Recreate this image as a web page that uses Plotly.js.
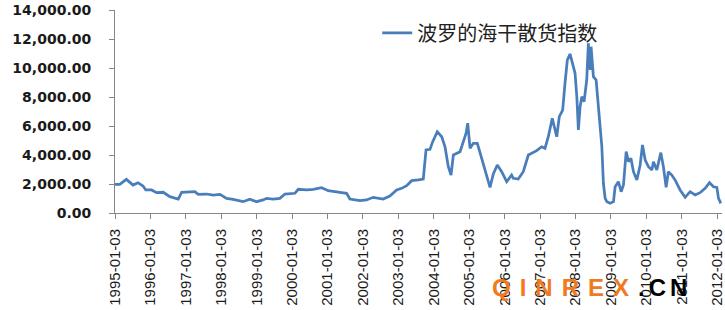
<!DOCTYPE html>
<html>
<head>
<meta charset="utf-8">
<script src="https://cdn.plot.ly/plotly-3.0.1.min.js"></script>
<style>html,body{margin:0;padding:0;background:#fff;}#chart{width:725px;height:310px;}</style>
</head>
<body>
<div id="chart"></div>
<script>
// Baltic Dry Index readings (date, value)
const dates = [
'1995-01-03','1995-02-21','1995-04-30','1995-07-08','1995-08-28','1995-10-19','1995-11-16',
'1996-01-15','1996-03-07','1996-05-14','1996-07-22','1996-10-16','1996-11-20',
'1997-01-27','1997-04-06','1997-05-10','1997-08-05','1997-10-12','1997-12-20',
'1998-02-27','1998-05-05','1998-08-16','1998-10-24',
'1999-01-02','1999-02-05','1999-03-10','1999-04-15','1999-06-22','1999-08-30','1999-10-21',
'2000-02-01','2000-03-07','2000-06-01','2000-08-08','2000-11-02',
'2001-01-10','2001-05-10','2001-07-18','2001-08-21','2001-12-02',
'2002-02-09','2002-04-18','2002-07-30','2002-10-07','2002-12-16',
'2003-02-06','2003-03-29','2003-05-20','2003-07-27','2003-09-17','2003-10-15','2003-11-25','2003-12-23',
'2004-02-08','2004-03-25','2004-04-28','2004-06-01','2004-06-29','2004-07-23','2004-09-30','2004-11-03','2004-12-01','2004-12-18',
'2005-01-11','2005-02-14','2005-03-27','2005-05-11','2005-07-02','2005-08-05','2005-09-08','2005-10-19','2005-12-03',
'2006-01-24','2006-03-16','2006-04-02','2006-05-23','2006-07-14','2006-09-04','2006-10-09','2006-11-29',
'2007-01-20','2007-02-23','2007-03-29','2007-05-09','2007-05-30','2007-06-24','2007-07-20','2007-08-24','2007-09-17','2007-10-11','2007-11-08','2007-12-06','2007-12-30',
'2008-01-17','2008-02-02','2008-02-20','2008-03-08','2008-04-01','2008-04-28','2008-05-15','2008-06-02','2008-06-12','2008-07-06','2008-08-03','2008-08-27','2008-09-13','2008-10-01','2008-10-17','2008-11-04','2008-11-22','2008-12-26',
'2009-01-29','2009-02-15','2009-03-21','2009-04-18','2009-05-12','2009-06-09','2009-07-03','2009-07-28','2009-08-23','2009-09-27','2009-10-31','2009-11-24','2009-12-22',
'2010-01-25','2010-03-01','2010-03-17','2010-04-21','2010-06-01','2010-06-28','2010-07-26','2010-08-18','2010-09-22','2010-10-26','2010-12-17',
'2011-02-07','2011-03-30','2011-05-21','2011-07-11','2011-09-01','2011-10-16','2011-11-26','2011-12-31',
'2012-01-17','2012-02-10'
];
const bdi = [
1980,1980,2320,1930,2090,1860,1590,
1590,1400,1430,1125,965,1430,
1430,1470,1290,1310,1240,1290,
1010,945,780,945,
780,830,900,1010,965,1010,1310,
1360,1635,1590,1635,1745,
1540,1430,1360,965,850,
900,1080,965,1170,1590,
1700,1880,2230,2280,2345,4345,4390,4920,
5610,5260,4570,3190,2620,4000,4230,4920,5500,6190,
4460,4810,4810,3770,2500,1770,2690,3310,2850,
2160,2620,2390,2345,2850,4000,4120,4300,
4570,4460,5260,6530,5950,5260,6640,7100,8945,10550,10970,10320,9635,
8020,5725,7330,8020,7680,9170,11700,9860,11470,9400,9170,7100,5950,4570,2050,1010,780,670,
780,1810,2160,1470,1930,4230,3540,3770,2850,2280,3310,4690,3655,
3190,2965,3540,2965,4160,3190,1770,2850,2620,2280,1590,
1080,1470,1240,1400,1700,2090,1810,1770,
1010,670
];
const seriesName = '波罗的海干散货指数';
const xTickVals = ['1995-01-03','1996-01-03','1997-01-03','1998-01-03','1999-01-03','2000-01-03','2001-01-03','2002-01-03','2003-01-03','2004-01-03','2005-01-03','2006-01-03','2007-01-03','2008-01-03','2009-01-03','2010-01-03','2011-01-03','2012-01-03'];
const xTickText = xTickVals.slice();
const yTicks = [0,2000,4000,6000,8000,10000,12000,14000];

const trace = {
  x: dates, y: bdi, type: 'scatter', mode: 'lines', name: seriesName,
  line: {color: '#4A7EBB', width: 2.75}
};
const layout = {
  width: 725, height: 310,
  margin: {l: 115, r: 3, t: 10, b: 97},
  paper_bgcolor: '#fff', plot_bgcolor: '#fff',
  showlegend: true,
  legend: {x: 0.432, y: 0.887, xanchor: 'left', yanchor: 'middle', bgcolor: 'rgba(0,0,0,0)',
    font: {family: 'Noto Sans CJK SC', size: 20, color: '#222'}},
  xaxis: {
    type: 'date', range: ['1995-01-03', '2012-02-22'],
    tickmode: 'array', tickvals: xTickVals, ticktext: xTickText, tickangle: -90,
    ticks: 'outside', ticklen: 5, tickcolor: '#868686',
    showline: true, linecolor: '#868686', linewidth: 1,
    showgrid: false, zeroline: false, ticklabelstandoff: 4, ticklabeloverflow: 'allow',
    tickfont: {family: 'Liberation Sans', size: 15, color: '#1a1a1a'}
  },
  yaxis: {
    range: [0, 14000], tickmode: 'array', tickvals: yTicks, tickformat: ',.2f',
    ticks: 'outside', ticklen: 5, tickcolor: '#868686',
    showline: true, linecolor: '#868686', linewidth: 1,
    showgrid: false, zeroline: false, ticklabelstandoff: 15,
    tickfont: {family: 'DejaVu Sans', size: 14, color: '#1a1a1a', weight: 'bold'}
  },
  annotations: [{
    xref: 'paper', yref: 'paper', x: 0.618, y: -0.369, xanchor: 'left', yanchor: 'middle',
    showarrow: false,
    text: '<span style="color:#F07A1E;letter-spacing:9px">QINREX</span><span style="color:#000;letter-spacing:4px">.CN</span>',
    font: {family: 'Liberation Sans', size: 24, color: '#000', weight: 'bold'}
  }]
};
Plotly.newPlot('chart', [trace], layout, {displayModeBar: false, staticPlot: true});
</script>
</body>
</html>
